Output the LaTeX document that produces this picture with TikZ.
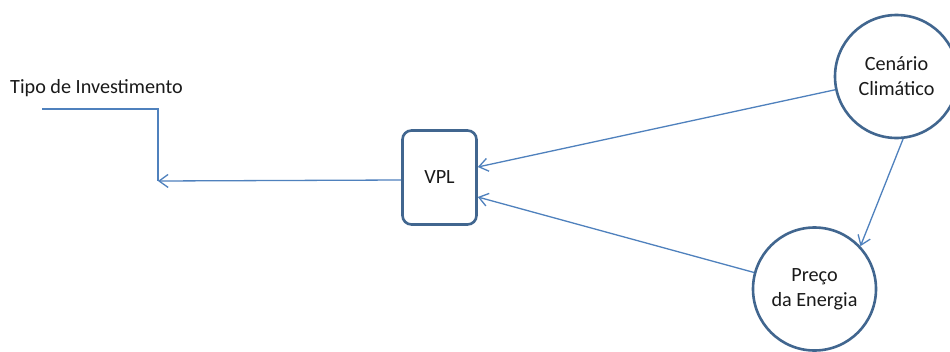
\documentclass[tikz,border=0pt]{standalone}
\usepackage{fontspec}
\setmainfont{Carlito}
\usetikzlibrary{arrows.meta}
\definecolor{conn}{HTML}{4F81BD}
\definecolor{edge}{HTML}{41668F}
\definecolor{txt}{HTML}{1A1A1A}
\begin{document}
\begin{tikzpicture}[x=1pt,y=-1pt,
  lbl/.style={font=\fontsize{20.2}{25}\selectfont, text=txt, align=center},
  circ/.style={circle, draw=edge, line width=2.6pt, minimum size=123pt, inner sep=0pt, lbl},
  boxnode/.style={draw=edge, line width=2.6pt, rounded corners=9pt, minimum width=74pt, minimum height=94pt, inner sep=0pt, lbl},
  link/.style={draw=conn, line width=1.3pt, -{Straight Barb[length=9pt,width=13pt]}},
  plain/.style={draw=conn, line width=1.3pt}]
\useasboundingbox (0,0) rectangle (950,351);
\fill[white] (0,0) rectangle (950,351);
\node[lbl, anchor=west, inner sep=0pt] (tipo) at (10,88) {Tipo de Investimento};
\node[boxnode] (vpl) at (439.5,177.5) {VPL};
\node[circ] (cen) at (896.5,76.5) {Cenário\\Climático};
\node[circ] (pre) at (814.5,289) {Preço\\da Energia};
\coordinate (t1) at (42,109);
\coordinate (t2) at (158,109);
\coordinate (t3) at (158,181);
\path[plain] (t1) -- (t2) -- (t3);
\path[link] (vpl.west |- 0,180) -- (t3);
\path[link] (cen) -- (vpl.east |- 0,167);
\path[link] (pre) -- (vpl.east |- 0,197);
\path[link] (cen.-84) -- (pre.43);
\end{tikzpicture}
\end{document}
